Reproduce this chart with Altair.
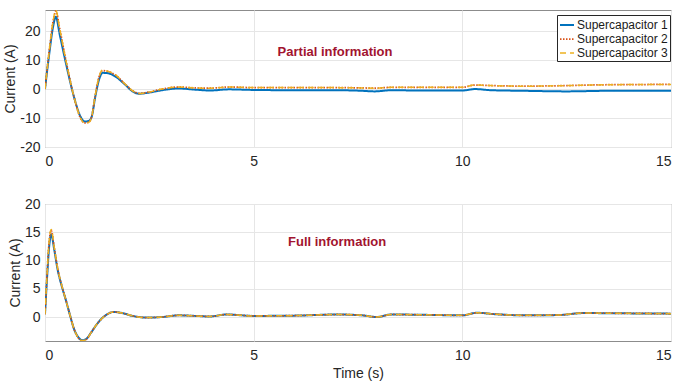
import altair as alt
import pandas as pd

series_names = ["Supercapacitor 1", "Supercapacitor 2", "Supercapacitor 3"]
series_colors = ["#0072BD", "#D95319", "#EDB120"]
series_dash = [[1, 0], [1.5, 1.5], [6, 4]]
series_width = [2.0, 1.5, 1.8]

# Top panel: partial information
t_top = [0, 0.1, 0.2, 0.26, 0.35, 0.5, 0.7, 0.85, 0.95, 1.05, 1.12, 1.2, 1.3, 1.38,
         1.5, 1.7, 1.9, 2.1, 2.25, 2.5, 2.8, 3.2, 3.6, 3.95, 4.4, 5, 6, 7, 7.6, 7.9,
         8.3, 9, 10, 10.3, 10.7, 11.5, 12.5, 13.5, 15]
s1_top = [0, 12, 22, 25, 19, 9, -3, -9.5, -11.2, -11, -9.5, -3, 3.5, 5.6,
          5.5, 4.2, 1.8, -0.8, -1.6, -1.2, -0.4, 0.2, -0.2, -0.5, -0.1, -0.3, -0.4, -0.4, -0.6, -0.8,
          -0.4, -0.5, -0.5, 0.0, -0.4, -0.6, -0.8, -0.6, -0.6]
s2_top = [0, 13, 23.8, 26.9, 21, 10, -3, -10, -11.7, -11.4, -9.5, -2.6, 4.4, 6.4,
          6.1, 4.7, 2.0, -0.6, -1.5, -1.0, 0.0, 0.7, 0.4, 0.3, 0.7, 0.5, 0.5, 0.5, 0.4, 0.3,
          0.6, 0.6, 0.6, 1.4, 1.2, 1.0, 1.2, 1.5, 1.6]
s3_top = [0, 13, 24, 27.2, 21, 10, -3, -10, -11.8, -11.5, -9.5, -2.5, 4.5, 6.5,
          6.2, 4.8, 2.0, -0.6, -1.5, -1.0, 0.0, 0.7, 0.4, 0.3, 0.7, 0.5, 0.5, 0.5, 0.4, 0.3,
          0.6, 0.6, 0.6, 1.4, 1.2, 1.0, 1.2, 1.5, 1.6]

# Bottom panel: full information
t_bot = [0, 0.05, 0.1, 0.15, 0.22, 0.3, 0.4, 0.5, 0.6, 0.7, 0.8, 0.9, 1.0, 1.1, 1.25,
         1.45, 1.65, 1.85, 2.1, 2.45, 2.8, 3.2, 3.6, 3.95, 4.35, 5, 6, 7, 7.6, 7.95,
         8.3, 9, 10, 10.35, 10.8, 11.5, 12.3, 12.9, 14, 15]
s1_bot = [0.5, 7, 12.5, 14.6, 12, 8.5, 5.5, 3, 0.3, -2.2, -3.6, -4.1, -3.8, -2.8, -1.2,
          0.3, 0.9, 0.7, 0.2, -0.1, 0.0, 0.3, 0.2, 0.1, 0.45, 0.2, 0.25, 0.45, 0.3, 0.0,
          0.45, 0.4, 0.3, 0.75, 0.5, 0.3, 0.35, 0.7, 0.65, 0.6]
s2_bot = [0.5, 7.5, 13.3, 15.3, 12.3, 8.7, 5.6, 3, 0.3, -2.2, -3.7, -4.2, -3.9, -2.8, -1.2,
          0.3, 0.9, 0.7, 0.2, -0.1, 0.0, 0.3, 0.2, 0.1, 0.45, 0.2, 0.25, 0.45, 0.3, 0.0,
          0.45, 0.4, 0.3, 0.75, 0.5, 0.3, 0.35, 0.7, 0.65, 0.6]
s3_bot = [0.5, 7.6, 13.5, 15.5, 12.4, 8.8, 5.6, 3, 0.3, -2.2, -3.7, -4.2, -3.9, -2.8, -1.2,
          0.3, 0.9, 0.7, 0.2, -0.1, 0.0, 0.3, 0.2, 0.1, 0.45, 0.2, 0.25, 0.45, 0.3, 0.0,
          0.45, 0.4, 0.3, 0.75, 0.5, 0.3, 0.35, 0.7, 0.65, 0.6]

ann_top = ["Partial information"]
ann_top_x = [6.95]
ann_top_y = [12.8]
ann_bot = ["Full information"]
ann_bot_x = [7.0]
ann_bot_y = [13.2]

x_ticks = [0, 5, 10, 15]
y_top_ticks = [-20, -10, 0, 10, 20]
y_top_domain = [-20, 27.3]
y_bot_ticks = [0, 5, 10, 15, 20]
y_bot_domain = [-4.24, 20]


def to_long(t, cols):
    rows = []
    for name, vals in zip(series_names, cols):
        for ti, v in zip(t, vals):
            rows.append({"t": ti, "v": v, "series": name})
    return pd.DataFrame(rows)


df_top = to_long(t_top, [s1_top, s2_top, s3_top])
df_bot = to_long(t_bot, [s1_bot, s2_bot, s3_bot])

FONT = "Liberation Sans"
W, H = 626, 137


def panel(df, ydom, yticks, xtitle, ann, ax, ay, show_legend):
    xenc = alt.X("t:Q", scale=alt.Scale(domain=[0, 15], nice=False),
                 axis=alt.Axis(values=x_ticks, title=xtitle, labelExpr="datum.value + ''"))
    yenc = alt.Y("v:Q", scale=alt.Scale(domain=ydom, nice=False, zero=False),
                 axis=alt.Axis(values=yticks, title="Current (A)", labelExpr="datum.value + ''"))
    if show_legend:
        leg = alt.Legend(title=None, orient="none", legendX=512, legendY=5,
                         symbolType="stroke", symbolSize=196, symbolStrokeWidth=1.6,
                         labelFontSize=12, labelFont=FONT, labelColor="#1a1a1a",
                         labelOffset=2, rowPadding=0, padding=2,
                         strokeColor="#262626", fillColor="white")
    else:
        leg = None
    lines = alt.Chart(df).mark_line(interpolate="monotone", clip=True).encode(
        x=xenc,
        y=yenc,
        color=alt.Color("series:N", scale=alt.Scale(domain=series_names, range=series_colors), legend=leg),
        strokeDash=alt.StrokeDash("series:N", scale=alt.Scale(domain=series_names, range=series_dash), legend=leg),
        strokeWidth=alt.StrokeWidth("series:N", scale=alt.Scale(domain=series_names, range=series_width), legend=None),
        order=alt.Order("t:Q"),
    )
    adf = pd.DataFrame({"label": ann, "t": ax, "v": ay})
    text = alt.Chart(adf).mark_text(font=FONT, fontSize=13, fontWeight="bold", color="#A2142F").encode(
        x=xenc, y=yenc, text="label:N")
    return alt.layer(lines, text).properties(width=W, height=H)


top = panel(df_top, y_top_domain, y_top_ticks, None, ann_top, ann_top_x, ann_top_y, True)
bot = panel(df_bot, y_bot_domain, y_bot_ticks, "Time (s)", ann_bot, ann_bot_x, ann_bot_y, False)

chart = alt.vconcat(top, bot, spacing=27).resolve_scale(
    color="independent", strokeDash="independent", strokeWidth="independent"
).properties(
    padding={"left": 3, "top": 9, "right": 10, "bottom": 2}
).configure_view(
    stroke="#8c8c8c", strokeWidth=1
).configure_axis(
    labelFont=FONT, titleFont=FONT, labelFontSize=14, titleFontSize=14,
    labelColor="#262626", titleColor="#262626", titleFontWeight="normal",
    grid=True, gridColor="#e6e6e6", gridWidth=1, labelOverlap=False,
    domain=False, ticks=False, tickSize=0, labelPadding=6,
).configure_axisY(
    labelPadding=5, titlePadding=2
).configure_axisX(
    labelPadding=7, titlePadding=4
)

chart.save("out.html", embed_options={"renderer": "svg", "actions": False})
